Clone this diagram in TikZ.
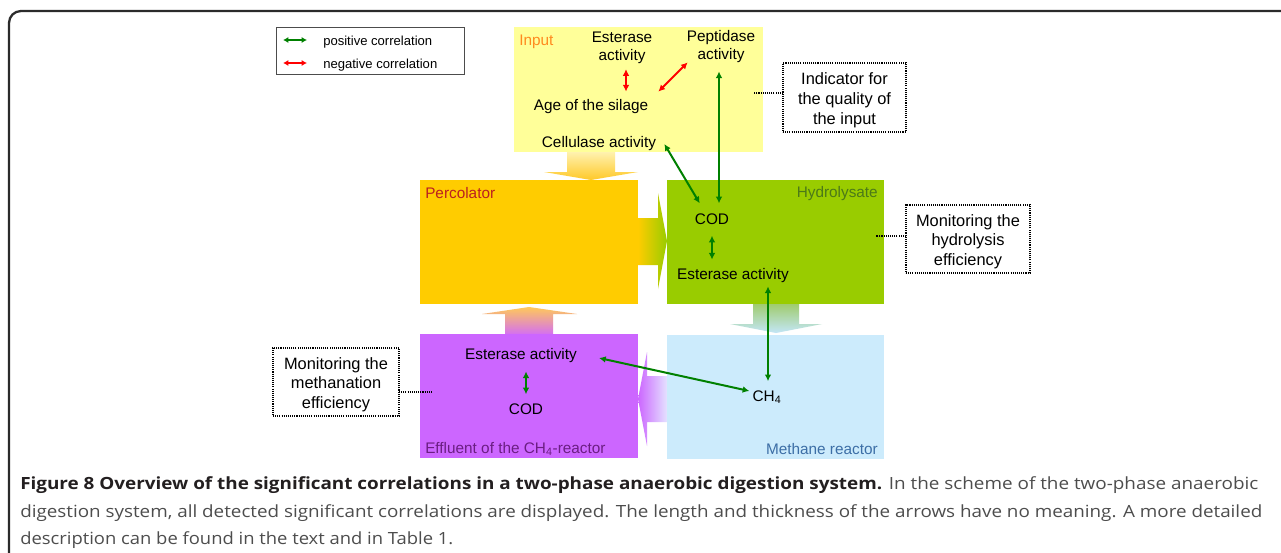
\documentclass[tikz,border=0pt]{standalone}
\usepackage{fontspec}
\setmainfont{Liberation Sans}
\newfontfamily\capfont{Open Sans}
\usetikzlibrary{arrows.meta}
\definecolor{cInput}{HTML}{FFFF99}
\definecolor{cPerc}{HTML}{FFCC00}
\definecolor{cHyd}{HTML}{99CC00}
\definecolor{cMeth}{HTML}{CCEBFC}
\definecolor{cEff}{HTML}{CC66FF}
\definecolor{lInput}{HTML}{FF8A1E}
\definecolor{lPerc}{HTML}{BB2020}
\definecolor{lHyd}{HTML}{4C7A18}
\definecolor{lMeth}{HTML}{3C6EA6}
\definecolor{lEff}{HTML}{6B1E82}
\definecolor{cGreen}{HTML}{008000}
\definecolor{cRed}{HTML}{FF0000}
\definecolor{capBold}{HTML}{231F20}
\definecolor{capNorm}{HTML}{4D4D4D}
\definecolor{frameC}{HTML}{2B2B2B}
\newcommand{\notetext}[1]{\raisebox{-2.2pt}[\height][\depth]{\begin{tabular}{@{}c@{}}#1\end{tabular}}}
\begin{document}
\begin{tikzpicture}[x=0.75pt,y=-0.75pt,
  box/.style={draw=none, inner sep=0pt, outer sep=0pt},
  txt/.style={font=\fontsize{11.5pt}{13.5pt}\selectfont, inner sep=0pt, align=center, text=black},
  lbl/.style={font=\fontsize{11.5pt}{13.5pt}\selectfont, inner sep=0pt},
  legtxt/.style={font=\fontsize{9.8pt}{12pt}\selectfont, inner sep=0pt, anchor=west},
  notebox/.style={draw=black, line width=0.9pt, dash pattern=on 0.8pt off 0.8pt, inner sep=0pt, outer sep=0pt, font=\fontsize{12.3pt}{14.8pt}\selectfont},
  dotline/.style={draw=black, line width=0.9pt, dash pattern=on 0.8pt off 0.8pt},
  poscor/.style={draw=cGreen, line width=1.5pt, {Latex[length=5pt,width=5pt]}-{Latex[length=5pt,width=5pt]}},
  negcor/.style={draw=cRed, line width=1.5pt, {Latex[length=5pt,width=5pt]}-{Latex[length=5pt,width=5pt]}},
  legpos/.style={draw=cGreen, line width=1.3pt, {Latex[length=4pt,width=4.5pt]}-{Latex[length=4pt,width=4.5pt]}},
  legneg/.style={draw=cRed, line width=1.3pt, {Latex[length=4pt,width=4.5pt]}-{Latex[length=4pt,width=4.5pt]}},
  capline/.style={anchor=base west, inner sep=0pt, font=\capfont\fontsize{12.6pt}{15pt}\selectfont, text=capNorm}
]
\useasboundingbox (0,0) rectangle (1281,553);
\fill[white] (0,0) rectangle (1281,553);

% frame
\draw[frameC, line width=1.7pt, rounded corners=9pt] (9,553) -- (9,11) -- (1282,11);

% legend
\node[draw=black!70, line width=0.7pt, minimum width=141pt, minimum height=35.25pt, inner sep=0pt] (legend) at (370,50.5) {};
\coordinate (lgpA) at (283,40);
\coordinate (lgpB) at (307,40);
\coordinate (lgnA) at (283,63);
\coordinate (lgnB) at (307,63);
\draw[legpos] (lgpA) -- (lgpB);
\draw[legneg] (lgnA) -- (lgnB);
\node[legtxt] (legp) at (323,42) {positive correlation};
\node[legtxt] (legn) at (323,65) {negative correlation};

% block arrows
\shade[top color={rgb,255:red,255;green,242;blue,175}, bottom color={rgb,255:red,255;green,200;blue,40}]
  (567,152) -- (615,152) -- (615,172) -- (638,172) -- (591,180) -- (544,172) -- (567,172) -- cycle;
\shade[left color=cPerc, right color=cHyd]
  (638,218) -- (658,218) -- (658,193) -- (667,241) -- (658,289) -- (658,265) -- (638,265) -- cycle;
\shade[top color={rgb,255:red,160;green,204;blue,110}, bottom color={rgb,255:red,195;green,230;blue,248}]
  (753,304) -- (799,304) -- (799,324) -- (822,324) -- (776,333) -- (730,324) -- (753,324) -- cycle;
\shade[left color=cEff, right color={rgb,255:red,228;green,226;blue,255}]
  (667,376) -- (647,376) -- (647,352) -- (638,399) -- (647,446) -- (647,422) -- (667,422) -- cycle;
\shade[top color={rgb,255:red,255;green,200;blue,90}, bottom color={rgb,255:red,212;green,112;blue,240}]
  (505,334) -- (505,314) -- (482,314) -- (529,307) -- (577,314) -- (553,314) -- (553,334) -- cycle;

% boxes
\node[box, fill=cInput, minimum width=186.75pt, minimum height=93.75pt] (inp) at (638.5,89.5) {};
\node[box, fill=cPerc, minimum width=163.5pt, minimum height=93pt] (perc) at (529,242) {};
\node[box, fill=cHyd, minimum width=162.75pt, minimum height=93pt] (hyd) at (775.5,242) {};
\node[box, fill=cMeth, minimum width=162.75pt, minimum height=93pt] (meth) at (775.5,397) {};
\node[box, fill=cEff, minimum width=163.5pt, minimum height=93pt] (eff) at (529,396) {};

% box labels
\node[lbl, text=lInput, anchor=west] (inpL) at (519,42) {Input};
\node[lbl, text=lPerc, anchor=west] (percL) at (425,193.5) {Percolator};
\node[lbl, text=lHyd, anchor=east] (hydL) at (878,194) {Hydrolysate};
\node[lbl, text=lMeth, anchor=east] (methL) at (878,449.5) {Methane reactor};
\node[lbl, text=lEff, anchor=west] (effL) at (425,449) {Effluent of the CH\textsubscript{4}-reactor};

% texts
\node[txt] (estI) at (622,48) {Esterase\\activity};
\node[txt] (pepI) at (721,46.5) {Peptidase\\activity};
\node[txt] (age) at (591,106.5) {Age of the silage};
\node[txt] (cell) at (599,143.5) {Cellulase activity};
\node[txt] (codH) at (712,219.5) {COD};
\node[txt] (estH) at (733,275.5) {Esterase activity};
\node[txt] (ch4) at (767,397) {CH\textsubscript{4}};
\node[txt] (estE) at (521,355.5) {Esterase activity};
\node[txt] (codE) at (526,409.5) {COD};

% note boxes
\node[notebox, minimum width=92.25pt, minimum height=51.75pt] (ind) at (844.5,97.5) {\notetext{Indicator for\\the quality of\\the input}};
\node[notebox, minimum width=93pt, minimum height=51pt] (monH) at (968,239) {\notetext{Monitoring the\\hydrolysis\\efficiency}};
\node[notebox, minimum width=94.5pt, minimum height=51pt] (monM) at (336,382) {\notetext{Monitoring the\\methanation\\efficiency}};
\draw[dotline] (ind.west) ++(0,-4.5) -- ++(-29,0);
\draw[dotline] (monH.west) ++(0,-3) -- ++(-30,0);
\draw[dotline] (monM.east) ++(0,10) -- ++(33,0);

% correlation arrows
\draw[negcor] ([shift={(4,5)}]estI.south) -- ([shift={(35,-7.5)}]age.north);
\draw[negcor] ([shift={(10,-7.5)}]age.north east) -- ([shift={(1,-0.5)}]pepI.south west);
\draw[poscor] ([shift={(-2,8.5)}]pepI.south) -- ([shift={(7,-10.5)}]codH.north);
\draw[poscor] ([shift={(8,0.5)}]cell.east) -- ([shift={(5,-10.5)}]codH.north west);
\draw[poscor] ([shift={(0,10.5)}]codH.south) -- ([shift={(-21,-8.5)}]estH.north);
\draw[poscor] ([shift={(35,3.5)}]estH.south) -- ([shift={(1,-9)}]ch4.north);
\draw[poscor] ([shift={(5,8.5)}]estE.south) -- ([shift={(0,-9.5)}]codE.north);
\draw[poscor] ([shift={(22,2.5)}]estE.east) -- ([shift={(-3,-6)}]ch4.west);

% caption
\node[capline] (cap1) at (20,489) {\resizebox{928.5pt}{\height}{\textcolor{capBold}{\textbf{Figure 8 Overview of the significant correlations in a two-phase anaerobic digestion system.}} In the scheme of the two-phase anaerobic}};
\node[capline] (cap2) at (20,517) {\resizebox{931.5pt}{\height}{digestion system, all detected significant correlations are displayed. The length and thickness of the arrows have no meaning. A more detailed}};
\node[capline] (cap3) at (20,544) {\resizebox{324.75pt}{\height}{description can be found in the text and in Table 1.}};
\end{tikzpicture}
\end{document}
